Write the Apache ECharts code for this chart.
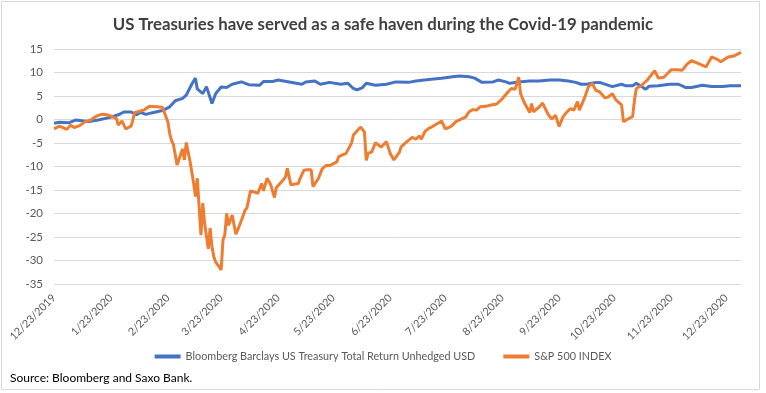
<!DOCTYPE html>
<html>
<head>
<meta charset="utf-8">
<script src="https://cdn.jsdelivr.net/npm/echarts@6/dist/echarts.min.js"></script>
<style>
html,body{margin:0;padding:0;background:#fff;}
#chart{width:766px;height:393px;}
</style>
</head>
<body>
<div id="chart"></div>
<script>
const titleText = 'US Treasuries have served as a safe haven during the Covid-19 pandemic';
const sourceText = 'Source: Bloomberg and Saxo Bank.';
const seriesNames = ['Bloomberg Barclays US Treasury Total Return Unhedged USD', 'S&P 500 INDEX'];
const xTickDates = ['2019-12-23','2020-01-23','2020-02-23','2020-03-23','2020-04-23','2020-05-23','2020-06-23','2020-07-23','2020-08-23','2020-09-23','2020-10-23','2020-11-23','2020-12-23'];
const yTicks = [15, 10, 5, 0, -5, -10, -15, -20, -25, -30, -35];

const tsyDates = ['2019-12-23','2019-12-26','2019-12-31','2020-01-04','2020-01-07','2020-01-11','2020-01-16','2020-01-22','2020-01-27','2020-01-30',
'2020-02-03','2020-02-06','2020-02-08','2020-02-11','2020-02-14','2020-02-20','2020-02-24','2020-02-27','2020-03-02','2020-03-04',
'2020-03-07','2020-03-09','2020-03-10','2020-03-13','2020-03-15','2020-03-18','2020-03-20','2020-03-23','2020-03-26','2020-03-29',
'2020-04-03','2020-04-07','2020-04-13','2020-04-15','2020-04-20','2020-04-23','2020-04-29','2020-05-06','2020-05-08','2020-05-13',
'2020-05-16','2020-05-21','2020-05-27','2020-05-31','2020-06-03','2020-06-05','2020-06-08','2020-06-10','2020-06-15','2020-06-21',
'2020-06-26','2020-07-03','2020-07-07','2020-07-14','2020-07-21','2020-07-27','2020-07-31','2020-08-05','2020-08-08','2020-08-12',
'2020-08-18','2020-08-21','2020-08-25','2020-08-27','2020-09-01','2020-09-07','2020-09-12','2020-09-18','2020-09-23','2020-09-28',
'2020-10-02','2020-10-05','2020-10-08','2020-10-12','2020-10-15','2020-10-22','2020-10-27','2020-10-29','2020-11-02','2020-11-04',
'2020-11-07','2020-11-09','2020-11-11','2020-11-16','2020-11-22','2020-11-27','2020-12-01','2020-12-04','2020-12-10','2020-12-15',
'2020-12-21','2020-12-25','2020-12-31'];
const tsyValues = [-0.8,-0.6,-0.7,-0.1,-0.25,-0.45,-0.1,0.4,1.0,1.6,
1.6,1.0,1.5,1.1,1.4,1.9,2.7,4.0,4.5,5.2,
7.5,8.8,6.5,5.5,7.0,3.4,5.5,6.9,6.8,7.5,
8.0,7.4,7.3,8.1,8.1,8.4,8.0,7.5,8.0,8.2,
7.5,7.9,7.5,7.7,6.6,6.3,6.8,7.7,7.3,7.5,
8.0,7.9,8.2,8.5,8.8,9.1,9.25,9.1,8.8,7.9,
8.0,8.4,8.0,7.7,8.0,8.2,8.2,8.4,8.4,8.2,
7.9,7.5,7.5,7.8,7.9,7.0,7.5,7.2,7.2,7.7,
7.0,6.4,7.1,7.2,7.5,7.5,6.8,6.8,7.3,7.0,
7.0,7.2,7.2];

const spxDates = ['2019-12-23','2019-12-26','2019-12-30','2020-01-01','2020-01-03','2020-01-06','2020-01-07','2020-01-09','2020-01-12','2020-01-15',
'2020-01-17','2020-01-19','2020-01-22','2020-01-26','2020-01-27','2020-01-29','2020-01-31','2020-02-03','2020-02-05','2020-02-06',
'2020-02-10','2020-02-13','2020-02-17','2020-02-20','2020-02-21','2020-02-23','2020-02-24','2020-02-25','2020-02-26','2020-02-28',
'2020-02-29','2020-03-02','2020-03-03','2020-03-04','2020-03-06','2020-03-08','2020-03-09','2020-03-10','2020-03-12','2020-03-13',
'2020-03-14','2020-03-16','2020-03-17','2020-03-18','2020-03-19','2020-03-20','2020-03-23','2020-03-24','2020-03-25','2020-03-26',
'2020-03-27','2020-03-29','2020-03-31','2020-04-01','2020-04-02','2020-04-03','2020-04-05','2020-04-06','2020-04-08','2020-04-12',
'2020-04-14','2020-04-15','2020-04-17','2020-04-19','2020-04-21','2020-04-22','2020-04-24','2020-04-27','2020-04-28','2020-04-30',
'2020-05-04','2020-05-05','2020-05-07','2020-05-09','2020-05-11','2020-05-12','2020-05-15','2020-05-17','2020-05-19','2020-05-21',
'2020-05-25','2020-05-26','2020-05-30','2020-06-02','2020-06-03','2020-06-05','2020-06-07','2020-06-09','2020-06-10','2020-06-11',
'2020-06-13','2020-06-15','2020-06-18','2020-06-21','2020-06-23','2020-06-25','2020-06-28','2020-06-29','2020-07-01','2020-07-05',
'2020-07-07','2020-07-09','2020-07-10','2020-07-12','2020-07-14','2020-07-16','2020-07-21','2020-07-23','2020-07-26','2020-07-29',
'2020-08-03','2020-08-05','2020-08-07','2020-08-09','2020-08-10','2020-08-11','2020-08-14','2020-08-17','2020-08-20','2020-08-23',
'2020-08-26','2020-08-28','2020-08-30','2020-09-01','2020-09-02','2020-09-04','2020-09-07','2020-09-08','2020-09-09','2020-09-12',
'2020-09-14','2020-09-17','2020-09-19','2020-09-21','2020-09-23','2020-09-25','2020-09-27','2020-09-29','2020-10-01','2020-10-03',
'2020-10-04','2020-10-07','2020-10-09','2020-10-11','2020-10-13','2020-10-15','2020-10-18','2020-10-20','2020-10-22','2020-10-24',
'2020-10-27','2020-10-28','2020-10-30','2020-11-02','2020-11-03','2020-11-04','2020-11-07','2020-11-10','2020-11-12','2020-11-14',
'2020-11-16','2020-11-19','2020-11-23','2020-11-26','2020-11-29','2020-12-02','2020-12-04','2020-12-06','2020-12-12','2020-12-15',
'2020-12-18','2020-12-20','2020-12-24','2020-12-27','2020-12-31'];
const spxValues = [-2.0,-1.4,-2.1,-1.2,-1.7,-1.3,-1.5,-0.45,-0.1,0.7,
1.0,1.1,0.9,0.2,-1.2,-0.3,-2.0,-1.4,1.5,1.1,
2.0,2.8,2.7,2.6,3.0,-0.5,-3.0,-4.5,-5.3,-9.7,
-9.5,-6.3,-8.6,-4.9,-8.8,-13.5,-16.4,-12.5,-24.6,-17.8,
-22.1,-27.5,-23.1,-27.1,-29.2,-30.3,-32.0,-25.6,-24.5,-20.0,
-22.5,-20.3,-24.4,-23.5,-23.1,-21.5,-19.3,-18.8,-15.2,-15.7,
-13.6,-15.2,-12.5,-13.9,-16.6,-14.5,-13.6,-12.3,-10.4,-13.9,
-13.6,-12.5,-10.8,-10.7,-10.7,-14.3,-12.5,-10.5,-9.8,-9.8,
-9.0,-7.9,-7.2,-5.0,-3.3,-2.4,-1.6,-2.7,-8.7,-7.2,
-6.9,-4.9,-5.9,-4.7,-7.2,-8.6,-7.0,-5.8,-5.1,-3.8,
-4.2,-3.5,-4.2,-2.5,-1.9,-1.5,-0.3,-2.0,-1.5,-0.4,
0.5,1.65,2.1,2.0,1.6,2.7,2.8,3.1,3.3,4.4,
5.8,6.6,6.4,9.0,5.5,3.6,1.5,3.4,1.65,2.6,
3.5,1.1,0.1,0.9,-1.5,0.5,1.5,2.3,2.0,3.8,
2.0,4.8,7.0,7.7,6.2,5.9,4.6,4.85,5.5,4.1,
3.1,-0.45,0.0,0.6,4.1,6.6,7.3,8.4,9.4,10.4,
8.8,9.0,10.6,10.6,10.5,11.9,12.5,12.2,11.2,13.3,
12.8,12.3,13.3,13.5,14.3];

const xMin = '2019-12-23';
const xMax = '2020-12-31';

function toTime(s) {
  const p = s.split('-').map(Number);
  return Date.UTC(p[0], p[1] - 1, p[2]);
}
function pairs(dates, values) {
  return dates.map((d, i) => [toTime(d), values[i]]);
}
function fmtDate(v) {
  const d = new Date(v);
  return (d.getUTCMonth() + 1) + '/' + d.getUTCDate() + '/' + d.getUTCFullYear();
}
const tickTimes = xTickDates.map(toTime);

const chart = echarts.init(document.getElementById('chart'), null, {renderer: 'canvas'});
chart.setOption({
  animation: false,
  backgroundColor: '#ffffff',
  title: {
    text: titleText,
    left: 'center',
    top: 11,
    textStyle: {fontFamily: 'Lato', fontWeight: 'bold', fontSize: 16.8, color: '#404040'}
  },
  graphic: [
    {type: 'rect', shape: {x: 1.5, y: 1.5, width: 758, height: 388}, style: {fill: 'none', stroke: '#D9D9D9', lineWidth: 1}, z: -1},
    {type: 'text', left: 10, top: 372, style: {text: sourceText, fontFamily: 'Lato', fontSize: 12, fill: '#000000'}}
  ],
  legend: {
    top: 346,
    left: 'center',
    itemWidth: 26,
    itemHeight: 4,
    itemGap: 28,
    icon: 'rect',
    textStyle: {fontFamily: 'Lato', fontSize: 10.8, color: '#595959'},
    data: seriesNames
  },
  grid: {left: 54, right: 25, top: 49, bottom: 109, containLabel: false},
  xAxis: {
    type: 'value',
    min: toTime(xMin),
    max: toTime(xMax),
    axisLine: {show: false},
    axisTick: {show: false},
    splitLine: {show: false},
    axisLabel: {
      customValues: tickTimes,
      rotate: 45,
      margin: 12,
      fontFamily: 'Lato',
      fontSize: 10.8,
      color: '#595959',
      formatter: v => fmtDate(v)
    }
  },
  yAxis: {
    type: 'value',
    min: -35,
    max: 15,
    interval: 5,
    axisLine: {show: false},
    axisTick: {show: false},
    axisLabel: {fontFamily: 'Lato', fontSize: 11.5, color: '#595959', margin: 11},
    splitLine: {lineStyle: {color: '#D9D9D9', width: 1}}
  },
  series: [
    {
      name: seriesNames[0],
      type: 'line',
      data: pairs(tsyDates, tsyValues),
      showSymbol: false,
      symbol: 'none',
      lineStyle: {color: '#4472C4', width: 3},
      itemStyle: {color: '#4472C4'},
      z: 2
    },
    {
      name: seriesNames[1],
      type: 'line',
      data: pairs(spxDates, spxValues),
      showSymbol: false,
      symbol: 'none',
      lineStyle: {color: '#ED7D31', width: 3},
      itemStyle: {color: '#ED7D31'},
      z: 3
    }
  ]
});
</script>
</body>
</html>
